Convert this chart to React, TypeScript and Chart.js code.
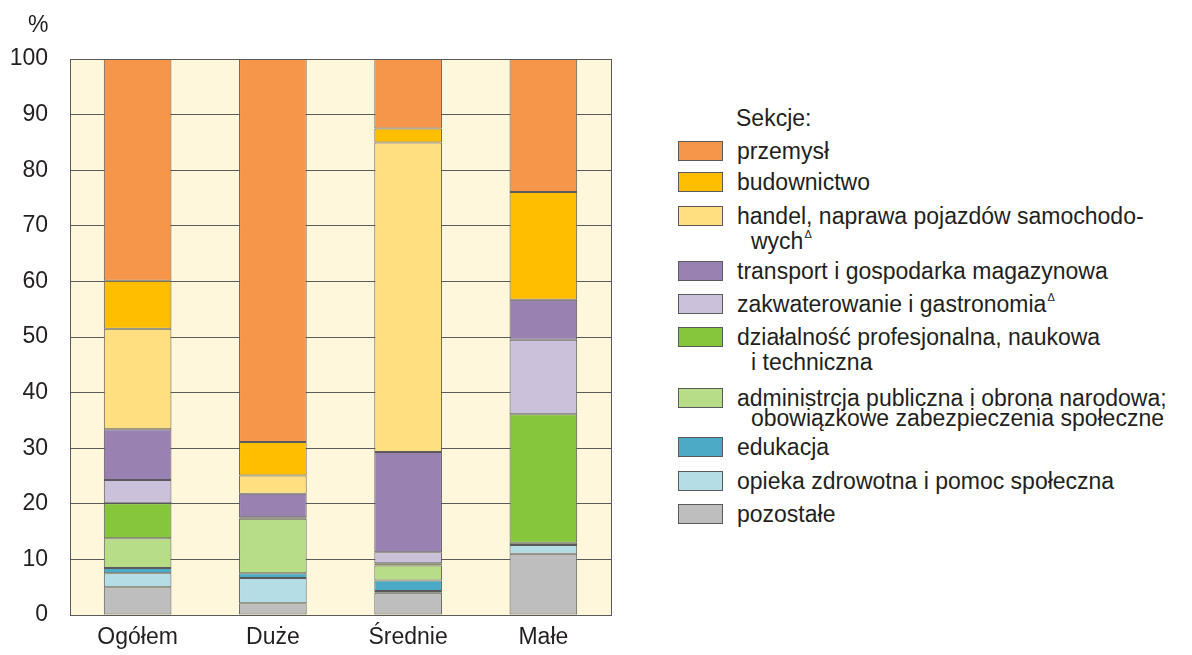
import React, { useEffect, useRef } from "react";
import { Chart, registerables } from "chart.js";

Chart.register(...registerables);

const categories = ["Ogółem", "Duże", "Średnie", "Małe"];
const yTicks = [0, 10, 20, 30, 40, 50, 60, 70, 80, 90, 100];

// series values (%), per category: Ogółem, Duże, Średnie, Małe
const przemysl = [39.9, 68.9, 12.5, 23.9];
const budownictwo = [8.6, 6.0, 2.5, 19.4];
const handel = [18.1, 3.3, 55.7, 0];
const transport = [9.1, 4.2, 18.0, 7.2];
const zakwaterowanie = [4.2, 0, 2.0, 13.4];
const dzialalnosc = [6.3, 0.3, 0.4, 23.1];
const administracja = [5.35, 9.8, 2.7, 0.4];
const edukacja = [0.95, 0.85, 1.9, 0];
const opieka = [2.5, 4.55, 0.3, 1.6];
const pozostale = [5.0, 2.1, 4.0, 11.0];

const seriesNames = [
  "przemysł",
  "budownictwo",
  "handel, naprawa pojazdów samochodowych",
  "transport i gospodarka magazynowa",
  "zakwaterowanie i gastronomia",
  "działalność profesjonalna, naukowa i techniczna",
  "administrcja publiczna i obrona narodowa; obowiązkowe zabezpieczenia społeczne",
  "edukacja",
  "opieka zdrowotna i pomoc społeczna",
  "pozostałe",
];
const seriesData = [
  przemysl,
  budownictwo,
  handel,
  transport,
  zakwaterowanie,
  dzialalnosc,
  administracja,
  edukacja,
  opieka,
  pozostale,
];
const seriesColors = [
  "#F5964A",
  "#FFBF00",
  "#FFDF80",
  "#9982B2",
  "#CBC1DB",
  "#85C63A",
  "#B7DD88",
  "#4BABC6",
  "#B5DDE6",
  "#BEBEBE",
];

// legend text lines (first line, continuation, superscript flag)
const legendLines: { first: string; second?: string; sup?: boolean; supOnFirst?: boolean }[] = [
  { first: "przemysł" },
  { first: "budownictwo" },
  { first: "handel, naprawa pojazdów samochodo-", second: "wych", sup: true },
  { first: "transport i gospodarka magazynowa" },
  { first: "zakwaterowanie i gastronomia", supOnFirst: true },
  { first: "działalność profesjonalna, naukowa", second: "i techniczna" },
  { first: "administrcja publiczna i obrona narodowa;", second: "obowiązkowe zabezpieczenia społeczne" },
  { first: "edukacja" },
  { first: "opieka zdrowotna i pomoc społeczna" },
  { first: "pozostałe" },
];
const legendBoxTops = [141, 172, 206, 261, 294, 327, 388, 437, 471, 504];
const legendLineGaps = [0, 0, 25, 0, 0, 25, 20, 0, 0, 0];

const FONT = '"Liberation Sans", Arial, sans-serif';
const TEXT = "#231F20";
const FS = 23;

const plotBg = {
  id: "plotBg",
  beforeDraw(chart: any) {
    const { ctx, chartArea } = chart;
    ctx.save();
    ctx.fillStyle = "#FEF7DC";
    ctx.fillRect(chartArea.left, chartArea.top, chartArea.right - chartArea.left, chartArea.bottom - chartArea.top);
    ctx.restore();
  },
  beforeDatasetsDraw(chart: any) {
    const { ctx, chartArea } = chart;
    ctx.save();
    ctx.strokeStyle = "#5A5A5A";
    ctx.lineWidth = 1;
    ctx.strokeRect(
      Math.round(chartArea.left) + 0.5,
      Math.round(chartArea.top) + 0.5,
      Math.round(chartArea.right - chartArea.left),
      Math.round(chartArea.bottom - chartArea.top)
    );
    ctx.restore();
  },
};

export default function App() {
  const canvasRef = useRef<HTMLCanvasElement | null>(null);

  useEffect(() => {
    if (!canvasRef.current) return;
    const order = [9, 8, 7, 6, 5, 4, 3, 2, 1, 0];
    const datasets = order.map((i) => ({
      label: seriesNames[i],
      data: seriesData[i],
      backgroundColor: seriesColors[i],
      borderColor: "#5A5A5A",
      borderWidth: 1,
      borderSkipped: false as const,
      categoryPercentage: 1,
      barPercentage: 0.5,
    }));
    const chart = new Chart(canvasRef.current, {
      type: "bar",
      data: { labels: categories, datasets },
      plugins: [plotBg],
      options: {
        animation: false,
        responsive: true,
        maintainAspectRatio: false,
        layout: { padding: { top: 59, right: 29, bottom: 0, left: 0 } },
        plugins: {
          legend: { display: false },
          tooltip: { enabled: false },
        },
        scales: {
          x: {
            stacked: true,
            grid: { display: false, drawTicks: false },
            border: { display: false },
            ticks: { color: TEXT, font: { family: FONT, size: FS }, padding: 9 },
            afterFit(scale: any) {
              scale.height = 40;
            },
          },
          y: {
            stacked: true,
            min: 0,
            max: 100,
            afterBuildTicks(scale: any) {
              scale.ticks = yTicks.map((v) => ({ value: v }));
            },
            grid: { color: "#5A5A5A", lineWidth: 1, drawTicks: false },
            border: { display: true, color: "#5A5A5A" },
            ticks: { color: TEXT, font: { family: FONT, size: FS }, padding: 22 },
            afterFit(scale: any) {
              scale.width = 70;
            },
          },
        },
      },
    });
    return () => chart.destroy();
  }, []);

  return (
    <div
      style={{
        position: "fixed",
        left: 0,
        top: 0,
        width: 1192,
        height: 655,
        background: "#fff",
        fontFamily: FONT,
        color: TEXT,
      }}
    >
      <div style={{ position: "absolute", left: 0, top: 0, width: 640, height: 655 }}>
        <canvas ref={canvasRef} />
      </div>
      <div style={{ position: "absolute", left: 28, top: 11, fontSize: FS, lineHeight: "26px" }}>%</div>
      <div style={{ position: "absolute", left: 736, top: 105, fontSize: FS, lineHeight: "26px", whiteSpace: "nowrap" }}>
        Sekcje:
      </div>
      {legendLines.map((item, i) => {
        const top = legendBoxTops[i];
        const center = top + 9.5;
        const sup = (
          <span style={{ position: "relative", top: -11, fontSize: 11, marginLeft: 1 }}>Δ</span>
        );
        return (
          <React.Fragment key={i}>
            <div
              style={{
                position: "absolute",
                left: 678,
                top,
                width: 43,
                height: 18,
                background: seriesColors[i],
                border: "1px solid #5A5A5A",
              }}
            />
            <div
              style={{
                position: "absolute",
                left: 737,
                top: center - 13,
                fontSize: FS,
                lineHeight: "26px",
                whiteSpace: "nowrap",
              }}
            >
              {item.first}
              {item.supOnFirst ? sup : null}
            </div>
            {item.second ? (
              <div
                style={{
                  position: "absolute",
                  left: 751,
                  top: center + legendLineGaps[i] - 13,
                  fontSize: FS,
                  lineHeight: "26px",
                  whiteSpace: "nowrap",
                }}
              >
                {item.second}
                {item.sup ? sup : null}
              </div>
            ) : null}
          </React.Fragment>
        );
      })}
    </div>
  );
}
